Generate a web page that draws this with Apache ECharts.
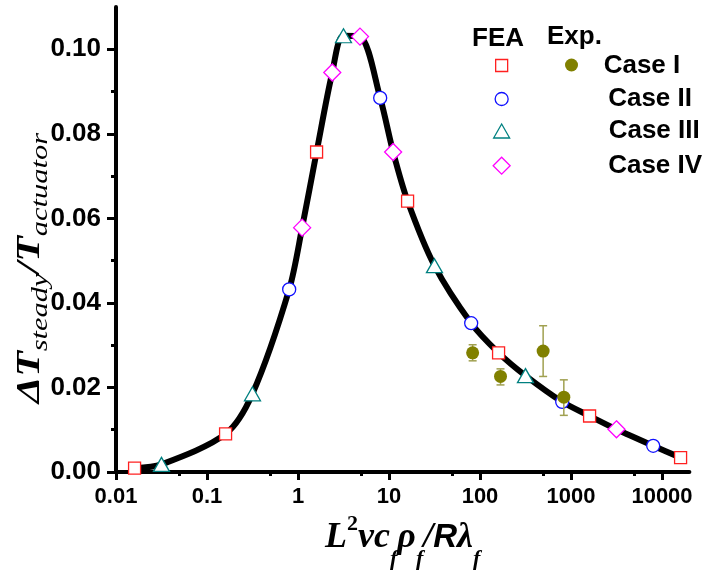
<!DOCTYPE html>
<html><head><meta charset="utf-8">
<script src="https://cdn.jsdelivr.net/npm/echarts@6/dist/echarts.min.js"></script>
<style>html,body{margin:0;padding:0;background:#fff}#c{width:702px;height:586px}</style>
</head><body><div id="c"></div>
<script>
// FEA results
const caseI_x = [0.016, 0.16, 1.6, 16, 160, 1600, 16000];
const caseI_y = [0.0009, 0.0090, 0.0757, 0.0641, 0.0282, 0.01325, 0.0034];
const caseII_x = [0.8, 8, 80, 800, 8000];
const caseII_y = [0.0432, 0.0885, 0.0352, 0.0166, 0.0062];
const caseIII_x = [0.0316, 0.316, 3.16, 31.6, 316];
const caseIII_y = [0.0018, 0.0185, 0.1032, 0.0488, 0.0228];
const caseIV_x = [1.11, 2.38, 4.8, 11.1, 3160];
const caseIV_y = [0.0578, 0.0945, 0.1030, 0.0757, 0.0101];
// Experimental (Case I)
const exp_x = [83, 168, 494, 834];
const exp_y = [0.0282, 0.0226, 0.0286, 0.0177];
const exp_lo = [0.0263, 0.0206, 0.0226, 0.0134];
const exp_hi = [0.0301, 0.0244, 0.0346, 0.0218];
// ticks
const xTickValues = [0.01, 0.1, 1, 10, 100, 1000, 10000];
const xTickLabels = ['0.01', '0.1', '1', '10', '100', '1000', '10000'];
const xMinorTicks = [0.05, 0.5, 5, 50, 500, 5000];
const yTickValues = [0, 0.02, 0.04, 0.06, 0.08, 0.10];
const yTickLabels = ['0.00', '0.02', '0.04', '0.06', '0.08', '0.10'];
const yMinorTicks = [0.01, 0.03, 0.05, 0.07, 0.09];
const caseNames = ['Case I', 'Case II', 'Case III', 'Case IV'];

const zip = (xs, ys) => xs.map((x, i) => [x, ys[i]]);
const allFEA = [].concat(zip(caseI_x, caseI_y), zip(caseII_x, caseII_y), zip(caseIII_x, caseIII_y), zip(caseIV_x, caseIV_y))
  .sort((a, b) => a[0] - b[0]);

const chart = echarts.init(document.getElementById('c'), null, {renderer: 'canvas'});
const sans = 'Liberation Sans, Arial, sans-serif';
const serif = 'Liberation Serif, Times New Roman, serif';
const X_MIN = 0.01, X_MAX = 20000, Y_MIN = 0, Y_MAX = 0.11;

function feaSeries(name, xs, ys, symbol, size, color) {
  return {
    type: 'scatter', name: name, data: zip(xs, ys), symbol: symbol, symbolSize: size,
    itemStyle: {color: '#fff', borderColor: color, borderWidth: 1.3, opacity: 1}, z: 4
  };
}
const colors = ['#ff2020', '#1010ff', '#008080', '#ff00ff'];
const symbols = ['rect', 'circle', 'triangle', 'diamond'];
const sizes = [12, 13, [16, 14], 17];
const legendTops = [52.5, 86, 118, 152.7];
const legendTextPad = [91, 95, 94, 93];

const legends = caseNames.map((n, i) => {
  const s = sizes[i];
  const w = Array.isArray(s) ? s[0] : s, h = Array.isArray(s) ? s[1] : s;
  return {
    data: [n], orient: 'vertical', left: 501 - w / 2, top: legendTops[i], padding: 0,
    itemWidth: w, itemHeight: h, selectedMode: false,
    itemStyle: {borderWidth: 1.3},
    formatter: name => '{t|' + name + '}',
    textStyle: {rich: {t: {fontFamily: sans, fontWeight: 'bold', fontSize: 26, lineHeight: 26, color: '#000', padding: [0, 0, 0, legendTextPad[i]]}}}
  };
});
legends.push({
  data: ['Exp. Case I'], left: 565, top: 58.5, padding: 0, itemWidth: 13, itemHeight: 13,
  selectedMode: false, formatter: () => '', textStyle: {fontSize: 1}
});

const option = {
  animation: false,
  backgroundColor: '#fff',
  title: [
    {text: 'FEA', left: 472, top: 26, padding: 0, textStyle: {fontFamily: sans, fontWeight: 'bold', fontSize: 26, color: '#000'}},
    {text: 'Exp.', left: 547, top: 24, padding: 0, textStyle: {fontFamily: sans, fontWeight: 'bold', fontSize: 26, color: '#000'}}
  ],
  legend: legends,
  graphic: [{
    type: 'text', x: 30, y: 268, rotation: Math.PI / 2, scaleX: 1.27, scaleY: 1, silent: true,
    style: {
      text: '{d|ΔT}{s|steady}{d|/T}{s|actuator}', align: 'center', verticalAlign: 'middle',
      rich: {
        d: {fontFamily: serif, fontStyle: 'italic', fontWeight: 'bold', fontSize: 33, lineHeight: 33, verticalAlign: 'top', fill: '#000'},
        s: {fontFamily: serif, fontStyle: 'italic', fontSize: 24, lineHeight: 24, verticalAlign: 'top', padding: [15, 0, 0, 0], fill: '#000'}
      }
    }
  }],
  grid: {left: 116, right: 12.6, top: 7, bottom: 114, containLabel: false, outerBoundsMode: 'none'},
  xAxis: [{
    type: 'log', logBase: 10, min: X_MIN, max: X_MAX,
    name: '{m|L}{sup|2}{m|vc}{sub|f}{m|ρ}{sub|f}{m|/}{r|R}{m|λ}{sub|f}',
    nameLocation: 'middle', nameGap: 47,
    nameTextStyle: {rich: {
      m: {fontFamily: serif, fontStyle: 'italic', fontWeight: 'bold', fontSize: 36, lineHeight: 36, verticalAlign: 'top', color: '#000'},
      r: {fontFamily: sans, fontStyle: 'italic', fontWeight: 'bold', fontSize: 33, lineHeight: 36, verticalAlign: 'top', padding: [2, 0, 0, 0], color: '#000'},
      sup: {fontFamily: serif, fontWeight: 'bold', fontSize: 22, lineHeight: 22, verticalAlign: 'top', padding: [-7, 0, 0, 0], color: '#000'},
      sub: {fontFamily: serif, fontStyle: 'italic', fontWeight: 'bold', fontSize: 22, lineHeight: 22, verticalAlign: 'top', padding: [28, 0, 0, 0], color: '#000'}
    }},
    axisLine: {show: true, onZero: false, lineStyle: {color: '#000', width: 4}},
    axisTick: {show: true, customValues: xTickValues, length: 8, lineStyle: {color: '#000', width: 3}},
    axisLabel: {show: true, customValues: xTickValues, margin: 14,
      formatter: v => { const i = xTickValues.findIndex(t => Math.abs(Math.log10(t) - Math.log10(v)) < 1e-6); return i >= 0 ? xTickLabels[i] : ''; },
      fontFamily: sans, fontWeight: 'bold', fontSize: 22, color: '#000'},
    splitLine: {show: false}, minorTick: {show: false}
  }, {
    type: 'log', logBase: 10, min: X_MIN, max: X_MAX, position: 'bottom',
    axisLine: {show: false},
    axisTick: {show: true, customValues: xMinorTicks, length: 4, lineStyle: {color: '#000', width: 3}},
    axisLabel: {show: false}, splitLine: {show: false}
  }],
  yAxis: [{
    type: 'value', min: Y_MIN, max: Y_MAX,
    axisLine: {show: true, onZero: false, lineStyle: {color: '#000', width: 4}},
    axisTick: {show: true, customValues: yTickValues, length: 9, lineStyle: {color: '#000', width: 3}},
    axisLabel: {show: true, customValues: yTickValues, margin: 15,
      formatter: v => { const i = yTickValues.findIndex(t => Math.abs(t - v) < 1e-9); return i >= 0 ? yTickLabels[i] : ''; },
      fontFamily: sans, fontWeight: 'bold', fontSize: 26, color: '#000'},
    splitLine: {show: false}
  }, {
    type: 'value', min: Y_MIN, max: Y_MAX, position: 'left',
    axisLine: {show: false},
    axisTick: {show: true, customValues: yMinorTicks, length: 5, lineStyle: {color: '#000', width: 3}},
    axisLabel: {show: false}, splitLine: {show: false}
  }],
  series: [
    {type: 'line', name: 'FEA curve', data: allFEA, smooth: 0.3, symbol: 'none', silent: true,
      lineStyle: {color: '#000', width: 6}, z: 2},
    feaSeries('Case I', caseI_x, caseI_y, symbols[0], sizes[0], colors[0]),
    feaSeries('Case II', caseII_x, caseII_y, symbols[1], sizes[1], colors[1]),
    feaSeries('Case III', caseIII_x, caseIII_y, symbols[2], sizes[2], colors[2]),
    feaSeries('Case IV', caseIV_x, caseIV_y, symbols[3], sizes[3], colors[3]),
    {type: 'custom', name: 'Exp. error', data: exp_x.map((x, i) => [x, exp_lo[i], exp_hi[i]]),
      encode: {x: 0, y: [1, 2]}, z: 5, silent: true,
      renderItem: (params, api) => {
        const lo = api.coord([api.value(0), api.value(1)]);
        const hi = api.coord([api.value(0), api.value(2)]);
        const w = 4, st = {stroke: '#a0a050', lineWidth: 1.5};
        return {type: 'group', children: [
          {type: 'line', shape: {x1: lo[0], y1: lo[1], x2: hi[0], y2: hi[1]}, style: st},
          {type: 'line', shape: {x1: lo[0] - w, y1: lo[1], x2: lo[0] + w, y2: lo[1]}, style: st},
          {type: 'line', shape: {x1: hi[0] - w, y1: hi[1], x2: hi[0] + w, y2: hi[1]}, style: st}
        ]};
      }},
    {type: 'scatter', name: 'Exp. Case I', data: zip(exp_x, exp_y), symbol: 'circle', symbolSize: 13,
      itemStyle: {color: '#808000', opacity: 1}, z: 6}
  ]
};
chart.setOption(option);
</script></body></html>
